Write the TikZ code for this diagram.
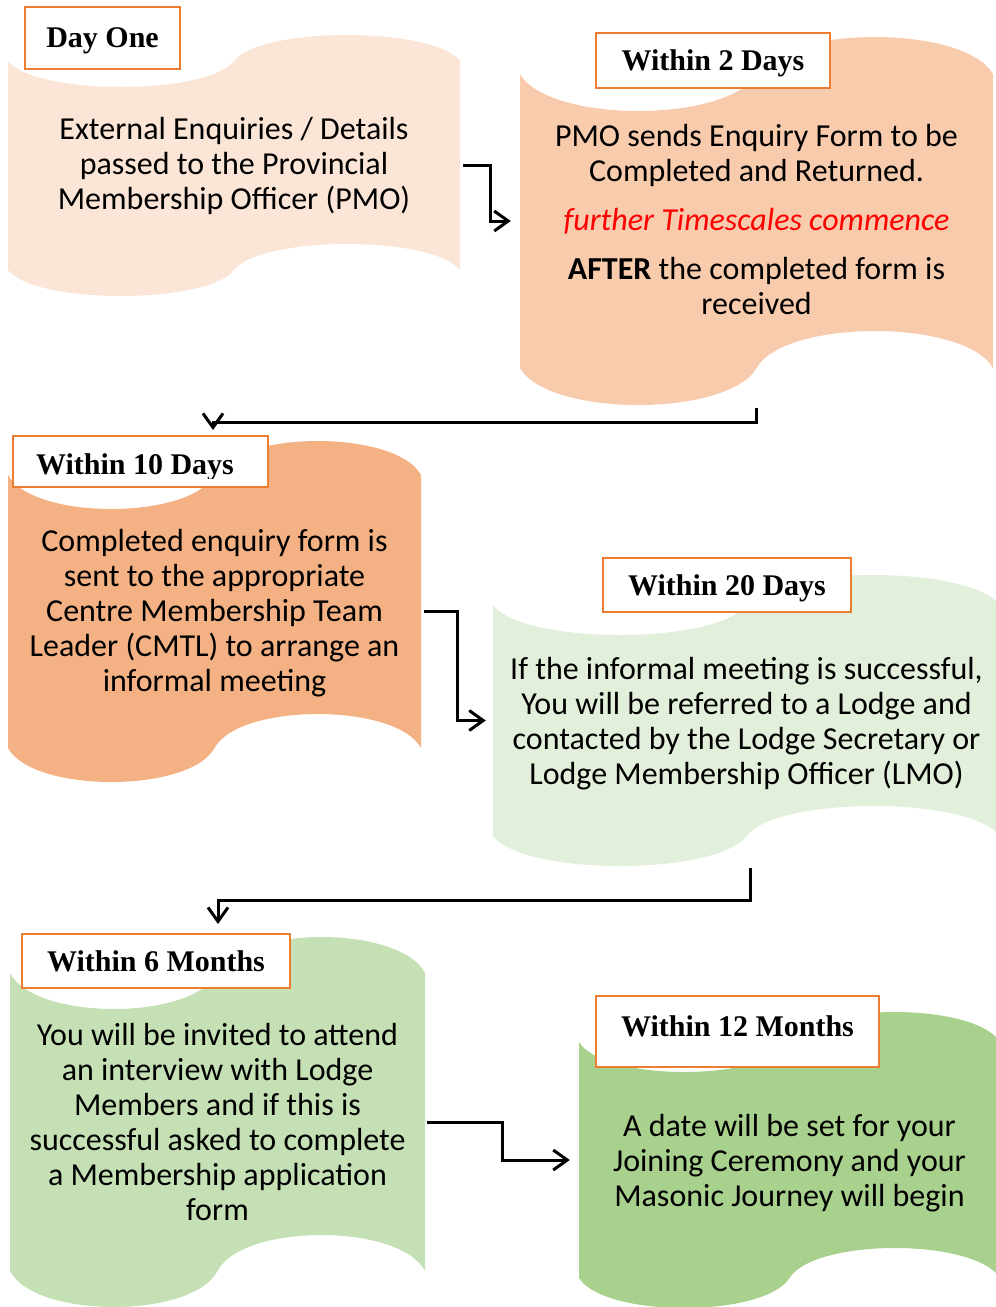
\documentclass[tikz,border=0pt]{standalone}
\usepackage{fontspec}
\setmainfont{Carlito}
\newfontfamily\tagfont{Liberation Serif}
\usetikzlibrary{arrows.meta}

\definecolor{dayone}{HTML}{FBE5D6}
\definecolor{twodays}{HTML}{F8CBAD}
\definecolor{tendays}{HTML}{F4B183}
\definecolor{twentydays}{HTML}{E2EFDA}
\definecolor{sixmonths}{HTML}{C5E0B4}
\definecolor{twelvemonths}{HTML}{A9D18E}
\definecolor{tagline}{HTML}{ED7D31}

% name, colour, left, right, top, bottom, amplitude
\newcommand{\wavebox}[7]{%
  \pgfmathsetmacro\wvm{(#3+#4)/2}%
  \pgfmathsetmacro\wvo{0.06*(#4-#3)}%
  \pgfmathsetmacro\wvk{4*#7/3}%
  \fill[#2] (#3,#5) .. controls ({#3+\wvo},#5+\wvk) and ({\wvm-\wvo},#5+\wvk) .. (\wvm,#5)
    .. controls ({\wvm+\wvo},#5-\wvk) and ({#4-\wvo},#5-\wvk) .. (#4,#5)
    -- (#4,#6) .. controls ({#4-\wvo},#6-\wvk) and ({\wvm+\wvo},#6-\wvk) .. (\wvm,#6)
    .. controls ({\wvm-\wvo},#6+\wvk) and ({#3+\wvo},#6+\wvk) .. (#3,#6) -- cycle;
  \node[inner sep=0pt, minimum width={#4-#3}, minimum height={#6-#5}] (#1)
    at ({(#3+#4)/2},{(#5+#6)/2}) {};
}

\begin{document}
\begin{tikzpicture}[x=1pt,y=-1pt,
  daytag/.style={draw=tagline, line width=2.5pt, fill=white, inner sep=0pt, text depth=0pt,
    font=\tagfont\bfseries\fontsize{30}{34}\selectfont},
  bodytext/.style={align=center, font=\fontsize{32}{35}\selectfont},
  link/.style={draw, line width=3pt, -{Straight Barb[length=14pt,width=20pt]}}]
\useasboundingbox (0,0) rectangle (996,1307);

\wavebox{w1}{dayone}{8}{460}{61}{270}{26}
\wavebox{w2}{twodays}{520}{993}{74}{368}{37}
\wavebox{w3}{tendays}{8}{421}{475}{748}{34}
\wavebox{w4}{twentydays}{493}{1000}{605}{836}{30}
\wavebox{w5}{sixmonths}{10}{425}{973}{1271}{36}
\wavebox{w6}{twelvemonths}{579}{1000}{1042}{1278}{30}

\node[bodytext] (t1) at (w1) {External Enquiries / Details\\passed to the Provincial\\Membership Officer (PMO)};
\node[bodytext, yshift=2pt] (t2) at (w2) {PMO sends Enquiry Form to be\\Completed and Returned.\\[14pt]
  \textcolor{red}{\itshape further Timescales commence}\\[14pt]
  \textbf{AFTER} the completed form is\\received};
\node[bodytext, yshift=-2pt] (t3) at (w3) {Completed enquiry form is\\sent to the appropriate\\Centre Membership Team\\Leader (CMTL) to arrange an\\informal meeting};
\node[bodytext, yshift=-3pt] (t4) at (w4) {If the informal meeting is successful,\\You will be referred to a Lodge and\\contacted by the Lodge Secretary or\\Lodge Membership Officer (LMO)};
\node[bodytext] (t5) at (w5) {You will be invited to attend\\an interview with Lodge\\Members and if this is\\successful asked to complete\\a Membership application\\form};
\node[bodytext, yshift=-3pt] (t6) at (w6) {A date will be set for your\\Joining Ceremony and your\\Masonic Journey will begin};

\node[daytag, minimum width=155, minimum height=62] (d1) at (102.5,38) {Day One};
\node[daytag, minimum width=234, minimum height=55] (d2) at (713,60.5) {Within 2 Days};
\node[daytag, minimum width=255, minimum height=51] (d3) at (140.5,461.5) {};
\begin{scope}
  \clip (13,436) rectangle (268,478);
  \node[daytag, draw=none, fill=none, anchor=base] (d3t) at (135,474) {Within 10 Days};
\end{scope}
\node[daytag, minimum width=248, minimum height=54] (d4) at (727,585) {Within 20 Days};
\node[daytag, minimum width=268, minimum height=54] (d5) at (156,961) {Within 6 Months};
\node[daytag, minimum width=283, minimum height=71, text depth=10pt] (d6) at (737.5,1031.5) {Within 12 Months};

\coordinate (a2) at (756,408);
\coordinate (a2e) at (213,430);
\coordinate (a4) at (750,868);
\coordinate (a4e) at (218,924);

\draw[link, shorten <=3pt, shorten >=9pt] (w1.east) -- ++(30,0) |- (w2.west);
\draw[link] (a2) -- ++(0,14) -| (a2e);
\draw[link, shorten <=3pt, shorten >=7pt] (w3.east) -- ++(36,0) |- (w4.west);
\draw[link] (a4) -- ++(0,32) -| (a4e);
\draw[link, shorten <=2pt, shorten >=9pt] (w5.east) -- ++(77,0) |- (w6.west);
\end{tikzpicture}
\end{document}
